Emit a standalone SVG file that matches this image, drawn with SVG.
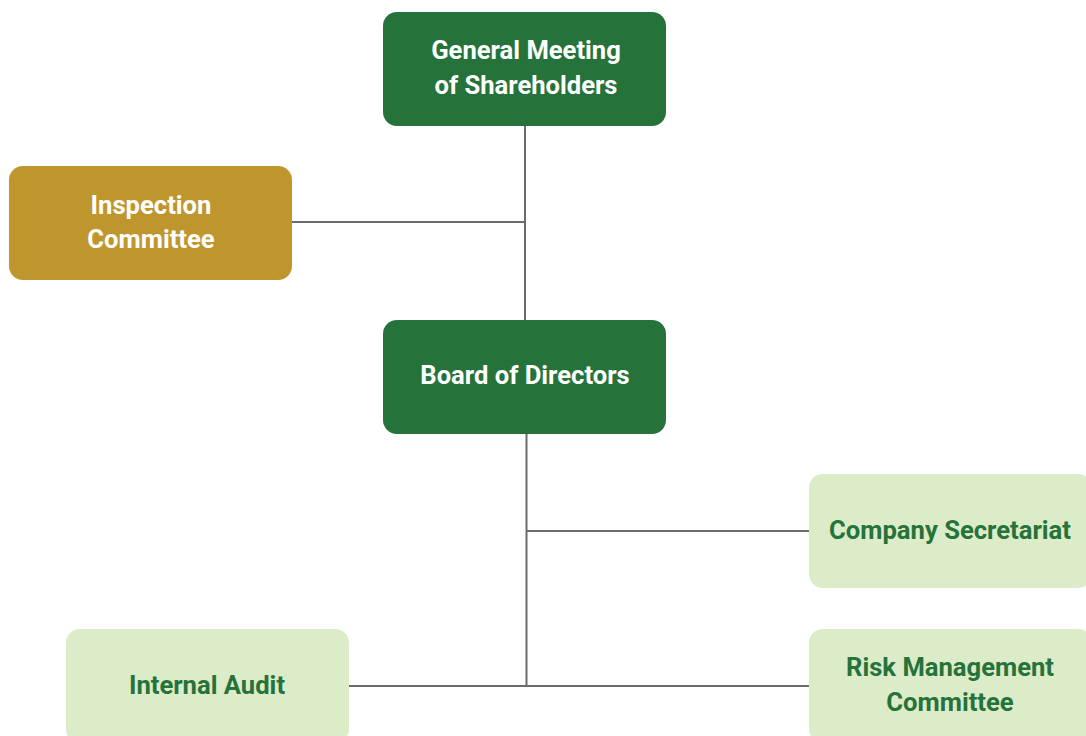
<svg xmlns="http://www.w3.org/2000/svg" width="1086" height="736" viewBox="0 0 1086 736">
<style>
.dark rect{fill:#25733b}
.gold rect{fill:#bf962e}
.light rect{fill:#dcebc8}
text{font-family:Roboto,"Liberation Sans",sans-serif;font-weight:bold;font-size:25.6px;text-anchor:middle}
.dark text,.gold text{fill:#ffffff}
.light text{fill:#25733b}
#connectors line{stroke:#6b6b6b;stroke-width:2}
</style>
<rect width="1086" height="736" fill="#ffffff"/>
<g id="connectors">
<line x1="525" y1="126" x2="525" y2="320"/>
<line x1="292" y1="222" x2="525" y2="222"/>
<line x1="526.5" y1="434" x2="526.5" y2="687"/>
<line x1="526.5" y1="531" x2="809" y2="531"/>
<line x1="349" y1="686" x2="809" y2="686"/>
</g>
<g id="general-meeting" class="dark">
<rect x="383" y="12" width="283" height="114" rx="14"/>
<text x="526" y="59">General Meeting</text>
<text x="526" y="94">of Shareholders</text>
</g>
<g id="inspection-committee" class="gold">
<rect x="9" y="166" width="283" height="114" rx="14"/>
<text x="151" y="214">Inspection</text>
<text x="151" y="248">Committee</text>
</g>
<g id="board-of-directors" class="dark">
<rect x="383" y="320" width="283" height="114" rx="14"/>
<text x="525" y="384">Board of Directors</text>
</g>
<g id="company-secretariat" class="light">
<rect x="809" y="474" width="283" height="114" rx="14"/>
<text x="950" y="539">Company Secretariat</text>
</g>
<g id="internal-audit" class="light">
<rect x="66" y="629" width="283" height="114" rx="14"/>
<text x="207" y="694">Internal Audit</text>
</g>
<g id="risk-management-committee" class="light">
<rect x="809" y="629" width="283" height="114" rx="14"/>
<text x="950" y="676">Risk Management</text>
<text x="950" y="711">Committee</text>
</g>
</svg>
